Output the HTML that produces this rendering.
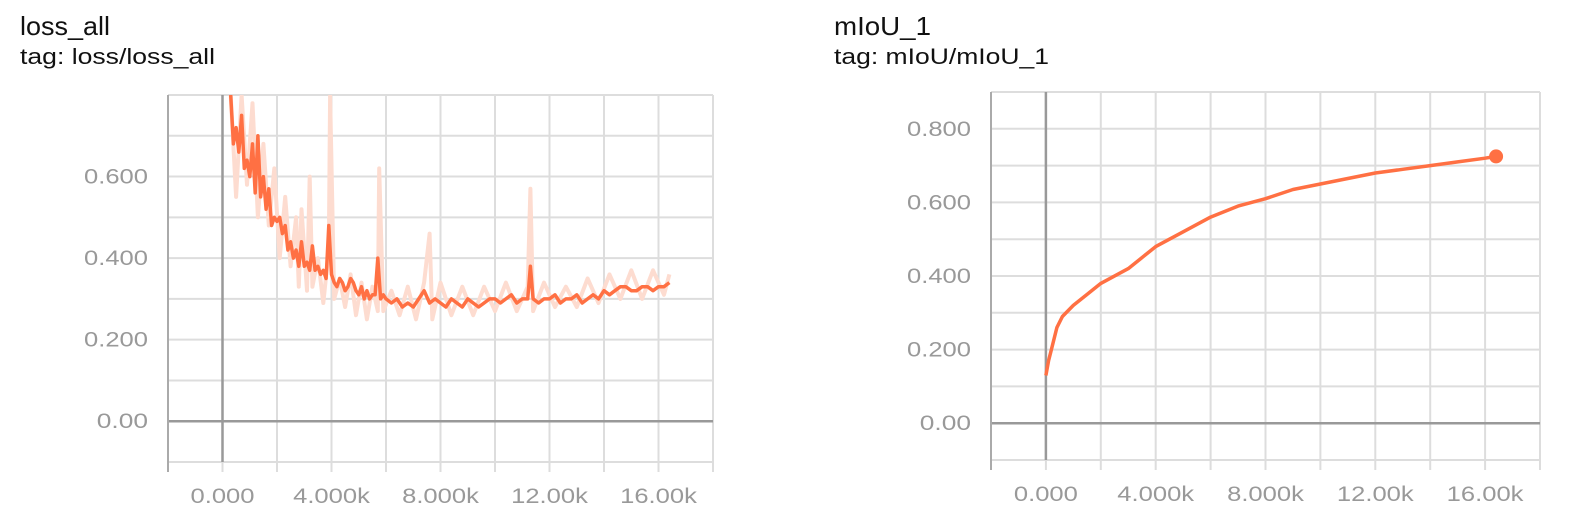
<!DOCTYPE html>
<html><head><meta charset="utf-8"><style>
body{margin:0;background:#fff;width:1572px;height:517px;overflow:hidden;font-family:"Liberation Sans",sans-serif}
svg{position:absolute;left:0;top:0}
</style></head><body>
<svg id="s" width="1572" height="517">
<text x="20" y="35" font-size="26" textLength="90" lengthAdjust="spacingAndGlyphs" fill="#111">loss_all</text>
<text x="20" y="64" font-size="22" textLength="195" lengthAdjust="spacingAndGlyphs" fill="#111">tag: loss/loss_all</text>
<text x="834" y="35" font-size="26" textLength="97" lengthAdjust="spacingAndGlyphs" fill="#111">mIoU_1</text>
<text x="834" y="64" font-size="22" textLength="215" lengthAdjust="spacingAndGlyphs" fill="#111">tag: mIoU/mIoU_1</text>
</svg>
<script>
const xTickValues=[0,4,8,12,16];
const xTickLabels=["0.000","4.000k","8.000k","12.00k","16.00k"];
const lossTickValues=[0,0.2,0.4,0.6];
const lossTickLabels=["0.00","0.200","0.400","0.600"];
const miouTickValues=[0,0.2,0.4,0.6,0.8];
const miouTickLabels=["0.00","0.200","0.400","0.600","0.800"];
const lossX=[0.3,0.4,0.5,0.6,0.7,0.8,0.9,1.0,1.1,1.2,1.3,1.4,1.5,1.6,1.7,1.8,1.9,2.0,2.1,2.2,2.3,2.4,2.5,2.6,2.7,2.8,2.9,3.0,3.1,3.2,3.3,3.4,3.5,3.6,3.7,3.8,3.9,4.0,4.1,4.2,4.3,4.4,4.5,4.6,4.7,4.8,4.9,5.0,5.1,5.2,5.3,5.4,5.5,5.6,5.7,5.8,5.9,6.0,6.2,6.4,6.6,6.8,7.0,7.2,7.4,7.6,7.8,8.0,8.2,8.4,8.6,8.8,9.0,9.2,9.4,9.6,9.8,10,10.2,10.4,10.6,10.8,11.0,11.2,11.3,11.4,11.6,11.8,12,12.2,12.4,12.6,12.8,13.0,13.2,13.4,13.6,13.8,14,14.2,14.4,14.6,14.8,15.0,15.2,15.4,15.6,15.8,16,16.2,16.4];
const lossY=[0.8,0.68,0.72,0.66,0.75,0.62,0.64,0.6,0.68,0.56,0.7,0.55,0.6,0.52,0.57,0.48,0.5,0.49,0.5,0.46,0.48,0.42,0.44,0.4,0.42,0.38,0.44,0.38,0.39,0.37,0.43,0.37,0.38,0.36,0.37,0.35,0.48,0.36,0.34,0.33,0.35,0.34,0.32,0.33,0.35,0.34,0.32,0.31,0.33,0.3,0.32,0.3,0.31,0.31,0.4,0.3,0.31,0.3,0.29,0.3,0.28,0.29,0.28,0.3,0.32,0.29,0.3,0.29,0.28,0.3,0.29,0.28,0.3,0.29,0.28,0.29,0.3,0.3,0.29,0.3,0.31,0.29,0.3,0.3,0.38,0.3,0.29,0.3,0.3,0.31,0.29,0.3,0.3,0.31,0.29,0.3,0.31,0.3,0.32,0.31,0.32,0.33,0.33,0.32,0.32,0.33,0.33,0.32,0.33,0.33,0.34];
const rawX=[0.3,0.5,0.7,0.9,1.1,1.3,1.5,1.7,1.9,2.1,2.3,2.5,2.7,2.8,2.9,3.1,3.2,3.3,3.5,3.7,3.9,3.95,4.1,4.3,4.5,4.7,4.9,5.1,5.3,5.5,5.7,5.75,5.9,6.2,6.5,6.8,7.1,7.4,7.6,7.7,8.0,8.4,8.8,9.2,9.6,10,10.4,10.8,11.2,11.3,11.4,11.8,12.2,12.6,13,13.4,13.8,14.2,14.6,15,15.4,15.8,16.2,16.4];
const rawY=[0.8,0.55,0.8,0.58,0.78,0.5,0.68,0.48,0.62,0.4,0.55,0.38,0.5,0.33,0.52,0.32,0.6,0.33,0.4,0.29,0.42,0.8,0.3,0.35,0.28,0.36,0.26,0.34,0.25,0.33,0.27,0.62,0.27,0.32,0.26,0.33,0.25,0.34,0.46,0.25,0.34,0.26,0.33,0.26,0.33,0.27,0.34,0.27,0.33,0.57,0.27,0.34,0.28,0.33,0.28,0.35,0.29,0.36,0.3,0.37,0.3,0.37,0.31,0.36];
const miouX=[0,0.1,0.2,0.4,0.6,1,1.5,2,3,4,5,6,7,8,9,10,11,12,13,14,15,16,16.4];
const miouY=[0.13,0.17,0.2,0.26,0.29,0.32,0.35,0.38,0.42,0.48,0.52,0.56,0.59,0.61,0.635,0.65,0.665,0.68,0.69,0.7,0.71,0.72,0.725];

const NS="http://www.w3.org/2000/svg",svg=document.getElementById('s');
function mk(t,a,p){const e=document.createElementNS(NS,t);for(const k in a)e.setAttribute(k,a[k]);(p||svg).appendChild(e);return e;}
function chart(o){
  const g=mk('g',{});
  
  
  const sx=v=>o.x0+(v-(-2))*(o.x1-o.x0)/20;
  const sy=v=>o.y1+(v-o.ymin)*(o.y0-o.y1)/(o.ymax-o.ymin);
  for(let v=o.ymin;v<=o.ymax+1e-9;v+=0.1){const l=mk('line',{x1:o.x0,x2:o.x1,y1:sy(v),y2:sy(v),stroke:'#ddd','stroke-width':2},g);
    
    }
  for(let v=-2;v<=18;v+=2){const l=mk('line',{x1:sx(v),x2:sx(v),y1:o.y0,y2:o.y1+10,stroke:'#ddd','stroke-width':2},g);
    
    }
  const ax=mk('line',{x1:o.x0,x2:o.x1,y1:sy(0),y2:sy(0),stroke:'#999','stroke-width':2.5},g);
  
  
  const ay=mk('line',{x1:sx(0),x2:sx(0),y1:o.y0,y2:o.y1,stroke:'#999','stroke-width':2.5},g);
  
  
  mk('line',{x1:o.x0,x2:o.x0,y1:o.y0,y2:o.y1+10,stroke:'#aaa','stroke-width':2},g);
  o.yt.forEach((v,i)=>{const t=mk('text',{x:o.x0-20,y:sy(v)+7,'text-anchor':'end','font-size':21,fill:'#999',textLength:o.yl[i].length*12.8,lengthAdjust:'spacingAndGlyphs'},g);t.textContent=o.yl[i];
    
    });
  xTickValues.forEach((v,i)=>{const t=mk('text',{x:sx(v),y:o.y1+41,'text-anchor':'middle','font-size':21,fill:'#999',textLength:xTickLabels[i].length*12.8,lengthAdjust:'spacingAndGlyphs'},g);t.textContent=xTickLabels[i];
    
    });
  const clip=mk('clipPath',{id:o.name+'c'},g);mk('rect',{x:o.x0,y:o.y0,width:o.x1-o.x0,height:o.y1-o.y0},clip);
  o.series.forEach(s=>{const p=mk('path',{d:s.x.map((v,i)=>(i?'L':'M')+sx(v).toFixed(1)+','+sy(Math.min(s.y[i],o.ymax)).toFixed(1)).join(''),fill:'none',stroke:s.c,'stroke-width':s.w,'stroke-linejoin':'round','clip-path':'url(#'+o.name+'c)'},g);
    
    });
  if(o.dot){const d=mk('circle',{cx:sx(o.dot[0]),cy:sy(o.dot[1]),r:7,fill:'#ff7043'},g);
    
    }
}
chart({name:'loss-chart',x0:168,x1:713,y0:95,y1:462,ymin:-0.1,ymax:0.8,yt:lossTickValues,yl:lossTickLabels,
  series:[{x:rawX,y:rawY,c:'#fddcd0',w:4,n:'loss-raw-line'},{x:lossX,y:lossY,c:'#ff7043',w:3.5,n:'loss-smoothed-line'}]});
chart({name:'miou-chart',x0:991,x1:1540,y0:92,y1:460,ymin:-0.1,ymax:0.9,yt:miouTickValues,yl:miouTickLabels,
  series:[{x:miouX,y:miouY,c:'#ff7043',w:3.5,n:'miou-line'}],dot:[16.4,0.725]});
</script>
</body></html>
